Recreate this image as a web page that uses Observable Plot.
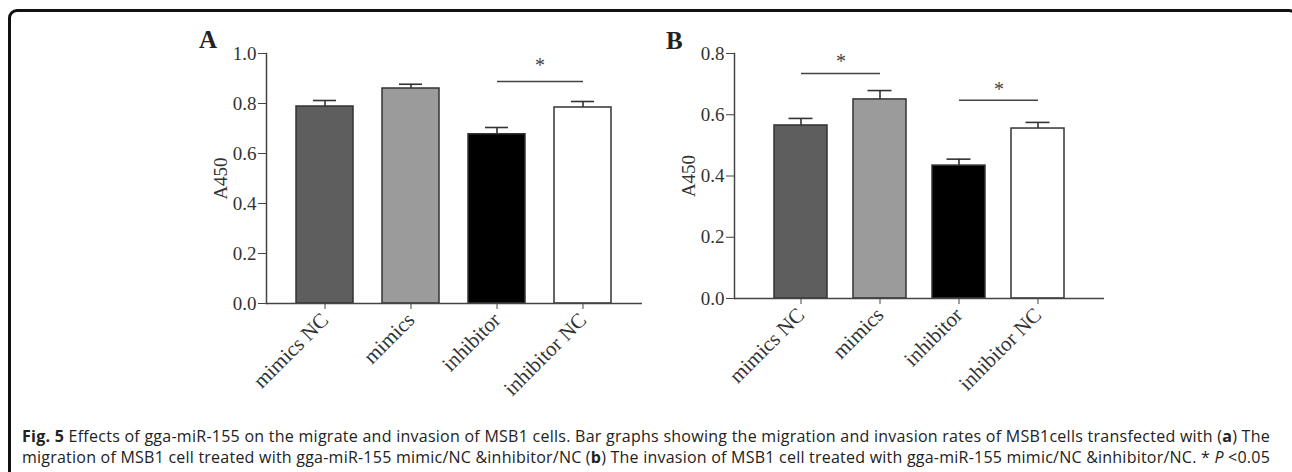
<!DOCTYPE html>
<html>
<head>
<meta charset="utf-8">
<script src="https://cdn.jsdelivr.net/npm/d3@7"></script>
<script src="https://cdn.jsdelivr.net/npm/@observablehq/plot@0.6"></script>
<style>
  html, body { margin: 0; padding: 0; background: #fff; }
  body { width: 1292px; height: 472px; position: relative; overflow: hidden; }
  #frame { position: absolute; left: 8px; top: 9px; width: 1290px; height: 480px;
           border: 3px solid #111; border-radius: 9px; box-sizing: border-box; }
  .plot { position: absolute; top: 20px; }
  #pa { left: 150px; }
  #pb { left: 620px; }
  .panel { position: absolute; font-family: "Liberation Serif", serif; font-weight: bold;
           font-size: 25px; color: #222; }
  .cap { position: absolute; left: 22px; font-family: "Open Sans", sans-serif;
         font-size: 16px; color: #222; white-space: nowrap; display: inline-block; }
</style>
</head>
<body>
<div id="frame"></div>
<div id="pa" class="plot"></div>
<div id="pb" class="plot"></div>
<div class="panel" style="left:199px; top:26px;">A</div>
<div class="panel" style="left:666px; top:27px;">B</div>
<div class="cap" style="top:425px;"><b>Fig. 5</b> Effects of gga-miR-155 on the migrate and invasion of MSB1 cells. Bar graphs showing the migration and invasion rates of MSB1cells transfected with (<b>a</b>) The</div>
<div class="cap" style="top:446px;">migration of MSB1 cell treated with gga-miR-155 mimic/NC &amp;inhibitor/NC (<b>b</b>) The invasion of MSB1 cell treated with gga-miR-155 mimic/NC &amp;inhibitor/NC. * <i>P</i> &lt;0.05</div>
<script>
// ---- data ----
const categories = ["mimics NC", "mimics", "inhibitor", "inhibitor NC"];
const migrationMean = [0.788, 0.860, 0.677, 0.784];
const migrationUpper = [0.812, 0.877, 0.704, 0.808];
const invasionMean = [0.565, 0.650, 0.434, 0.555];
const invasionUpper = [0.588, 0.679, 0.455, 0.575];
const ticksA = [0, 0.2, 0.4, 0.6, 0.8, 1.0];
const ticksB = [0, 0.2, 0.4, 0.6, 0.8];
// significance brackets
const sigA = [{from: "inhibitor", to: "inhibitor NC", y: 0.888, star: 0.952}];
const sigB = [
  {from: "mimics NC", to: "mimics", y: 0.735, star: 0.772},
  {from: "inhibitor", to: "inhibitor NC", y: 0.647, star: 0.683}
];
const barFills = ["#5e5e5e", "#9b9b9b", "#000000", "#ffffff"];

function rows(means, uppers) {
  return categories.map((c, i) => ({cat: c, v: means[i], e: uppers[i]}));
}

function panel({data, ticks, domain, sig, width, marginLeft, marginBottom, xScale, capInset, starDx}) {
  return Plot.plot({
    width, height: 383,
    marginLeft, marginRight: 8, marginTop: 33, marginBottom,
    style: {fontFamily: "Liberation Serif, serif", fontSize: "18px", color: "#333", background: "transparent"},
    x: {domain: categories, ...xScale, label: null},
    y: {domain, label: null},
    color: {domain: categories, range: barFills},
    marks: [
      Plot.barY(data, {x: "cat", y: "v", fill: "cat", stroke: "#333", strokeWidth: 1.5}),
      Plot.ruleX(data, {x: "cat", y1: "v", y2: "e", stroke: "#333", strokeWidth: 1.6}),
      Plot.tickY(data, {x: "cat", y: "e", stroke: "#333", strokeWidth: 1.6, insetLeft: capInset, insetRight: capInset}),
      Plot.link(sig, {x1: "from", x2: "to", y1: "y", y2: "y", stroke: "#444", strokeWidth: 1.5}),
      Plot.text(sig, {x: "from", y: "star", text: () => "*", dx: starDx, fontSize: 20, fill: "#444"}),
      Plot.ruleY([0], {stroke: "#444", strokeWidth: 1.5}),
      Plot.frame({anchor: "left", stroke: "#444", strokeWidth: 1.5}),
      Plot.axisY({ticks, tickFormat: d3.format(".1f"), tickSize: 8, tickPadding: 2, stroke: "#444",
                  label: "A450", labelArrow: "none", labelAnchor: "center", labelOffset: 53, fontSize: 19}),
      Plot.axisX({tickSize: 6, tickRotate: -45, tickPadding: 7, fontSize: 21, stroke: "#444", label: null})
    ]
  });
}

document.getElementById("pa").append(panel({
  data: rows(migrationMean, migrationUpper), ticks: ticksA, domain: [0, 1.0], sig: sigA,
  width: 500, marginLeft: 116, marginBottom: 100, xScale: {padding: 0.335}, capInset: 17, starDx: 43
}));
document.getElementById("pb").append(panel({
  data: rows(invasionMean, invasionUpper), ticks: ticksB, domain: [0, 0.8], sig: sigB,
  width: 492, marginLeft: 114, marginBottom: 105, xScale: {paddingInner: 0.33, paddingOuter: 0.5}, capInset: 14.5, starDx: 40
}));

// fit each caption line to the printed line width by adjusting letter spacing
const captionWidths = [1248, 1248];
document.querySelectorAll(".cap").forEach((el, i) => {
  const n = el.textContent.length;
  const w = el.getBoundingClientRect().width;
  el.style.letterSpacing = ((captionWidths[i] - w) / n) + "px";
});
</script>
</body>
</html>
